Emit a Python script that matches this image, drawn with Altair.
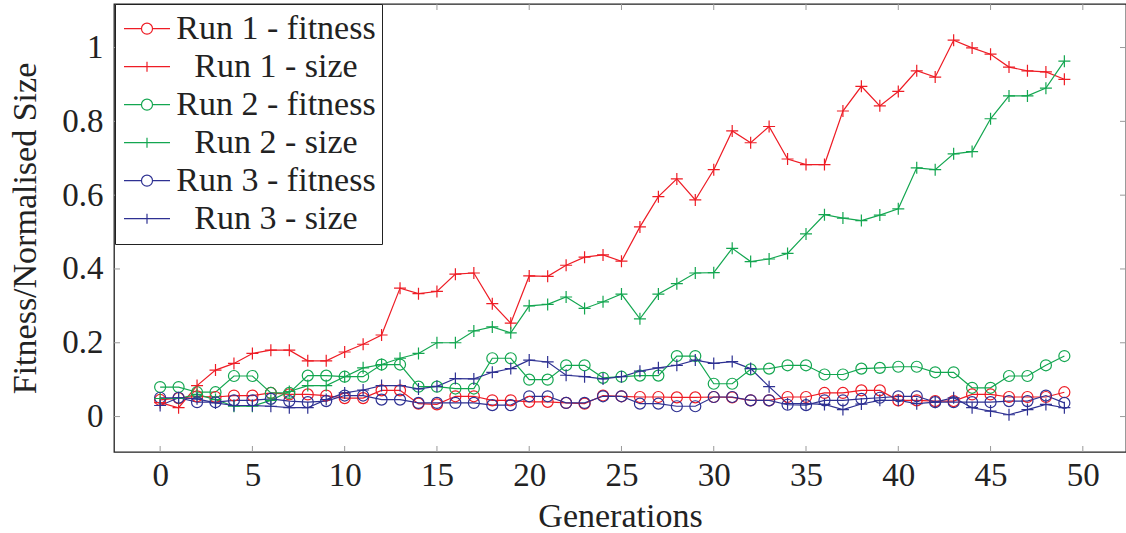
import altair as alt
import pandas as pd

generations = list(range(50))

run1_fitness = [0.045, 0.05, 0.055, 0.053, 0.057, 0.057, 0.064, 0.06, 0.06, 0.057,
                0.05, 0.05, 0.071, 0.071, 0.035, 0.033, 0.055, 0.055, 0.044, 0.044,
                0.04, 0.04, 0.037, 0.035, 0.057, 0.055, 0.053, 0.053, 0.052, 0.052,
                0.053, 0.052, 0.044, 0.044, 0.053, 0.053, 0.064, 0.064, 0.071, 0.071,
                0.044, 0.044, 0.042, 0.042, 0.06, 0.06, 0.053, 0.053, 0.053, 0.066]
run1_size = [0.038, 0.024, 0.084, 0.126, 0.144, 0.171, 0.18, 0.18, 0.151, 0.151,
             0.175, 0.196, 0.221, 0.348, 0.333, 0.339, 0.386, 0.389, 0.306, 0.253,
             0.381, 0.38, 0.41, 0.432, 0.438, 0.421, 0.514, 0.596, 0.644, 0.587,
             0.669, 0.774, 0.742, 0.786, 0.698, 0.683, 0.683, 0.828, 0.895, 0.842,
             0.881, 0.937, 0.92, 1.02, 0.999, 0.982, 0.947, 0.937, 0.934, 0.914]
run2_fitness = [0.08, 0.08, 0.066, 0.066, 0.11, 0.11, 0.064, 0.064, 0.111, 0.111,
                0.108, 0.108, 0.141, 0.141, 0.081, 0.081, 0.076, 0.076, 0.158, 0.158,
                0.1, 0.1, 0.139, 0.139, 0.105, 0.108, 0.111, 0.111, 0.164, 0.164,
                0.089, 0.089, 0.128, 0.13, 0.139, 0.139, 0.114, 0.114, 0.13, 0.132,
                0.135, 0.135, 0.12, 0.12, 0.078, 0.078, 0.11, 0.11, 0.139, 0.164]
run2_size = [0.049, 0.049, 0.06, 0.046, 0.028, 0.028, 0.044, 0.068, 0.084, 0.084,
             0.108, 0.132, 0.141, 0.158, 0.171, 0.2, 0.2, 0.232, 0.243, 0.227,
             0.3, 0.304, 0.324, 0.293, 0.311, 0.332, 0.265, 0.332, 0.36, 0.389,
             0.39, 0.456, 0.42, 0.427, 0.442, 0.495, 0.547, 0.538, 0.531, 0.546,
             0.563, 0.674, 0.669, 0.712, 0.718, 0.807, 0.869, 0.869, 0.89, 0.963]
run3_fitness = [0.051, 0.051, 0.039, 0.039, 0.044, 0.044, 0.048, 0.042, 0.039, 0.042,
                0.057, 0.057, 0.046, 0.046, 0.037, 0.037, 0.037, 0.037, 0.031, 0.031,
                0.055, 0.055, 0.037, 0.037, 0.055, 0.055, 0.035, 0.035, 0.028, 0.028,
                0.053, 0.053, 0.044, 0.044, 0.032, 0.031, 0.044, 0.044, 0.048, 0.051,
                0.055, 0.055, 0.039, 0.039, 0.039, 0.039, 0.042, 0.042, 0.057, 0.037]
run3_size = [0.03, 0.051, 0.048, 0.037, 0.03, 0.03, 0.028, 0.024, 0.024, 0.046,
             0.064, 0.072, 0.084, 0.084, 0.075, 0.082, 0.103, 0.102, 0.12, 0.13,
             0.153, 0.148, 0.112, 0.108, 0.102, 0.108, 0.123, 0.132, 0.139, 0.153,
             0.144, 0.149, 0.13, 0.081, 0.035, 0.035, 0.033, 0.019, 0.034, 0.044,
             0.044, 0.035, 0.039, 0.051, 0.024, 0.015, 0.005, 0.019, 0.033, 0.024]

series_names = ["Run 1 - fitness", "Run 1 - size", "Run 2 - fitness",
                "Run 2 - size", "Run 3 - fitness", "Run 3 - size"]
series_values = [run1_fitness, run1_size, run2_fitness, run2_size, run3_fitness, run3_size]
series_kind = ["fitness", "size", "fitness", "size", "fitness", "size"]
series_colors = ["#ee1c25", "#ee1c25", "#13a650", "#13a650", "#2e3192", "#2e3192"]

x_ticks = [0, 5, 10, 15, 20, 25, 30, 35, 40, 45, 50]
y_ticks = [0, 0.2, 0.4, 0.6, 0.8, 1.0]

rows = []
for name, vals, kind in zip(series_names, series_values, series_kind):
    for g, v in zip(generations, vals):
        rows.append({"gen": g, "value": v, "series": name, "kind": kind})
df = pd.DataFrame(rows)

W, H = 1012, 448
FONT = "Liberation Serif"
TXT = "#222222"

x_scale = alt.Scale(domain=[-2.5, 52.34], nice=False, zero=False)
y_scale = alt.Scale(domain=[-0.096, 1.118], nice=False, zero=False)

x_enc = alt.X("gen:Q", scale=x_scale,
              axis=alt.Axis(values=x_ticks, title="Generations", ticks=False, domain=False,
                            grid=False, labelPadding=7, titleY=74,
                            titleBaseline="alphabetic"))
y_enc = alt.Y("value:Q", scale=y_scale,
              axis=alt.Axis(values=y_ticks, title="Fitness/Normalised Size", format="~g",
                            ticks=False, domain=False, grid=False, labelPadding=11,
                            titleX=-79, titleBaseline="alphabetic"))

color_scale = alt.Scale(domain=series_names, range=series_colors)

circle_leg = "M-1,0H-0.24M0.24,0H1M0.24,0A0.24,0.24,0,1,1,-0.24,0A0.24,0.24,0,1,1,0.24,0"
cross_leg = "M-1,0H1M0,-0.22V0.22"
shape_range = [circle_leg, cross_leg, circle_leg, cross_leg, circle_leg, cross_leg]

legend_def = alt.Legend(title=None, orient="none", legendX=1, legendY=0,
                        padding=6, clipHeight=37.4, rowPadding=0,
                        labelAlign="center", labelOffset=105,
                        symbolSize=2116, symbolStrokeWidth=1.2,
                        symbolOffset=2, symbolOpacity=1, symbolFillColor="transparent",
                        labelFont=FONT, labelFontSize=34, labelColor=TXT,
                        labelLimit=400,
                        strokeColor="#222222", fillColor="white",
                        cornerRadius=0)

color_enc = alt.Color("series:N", scale=color_scale, legend=legend_def)

base = alt.Chart(df)

legend_layer = base.mark_point(filled=False).encode(
    x=x_enc, y=y_enc,
    color=color_enc,
    shape=alt.Shape("series:N", scale=alt.Scale(domain=series_names, range=shape_range),
                    legend=legend_def),
).transform_filter("false")

lines = base.mark_line(strokeWidth=1.2).encode(
    x=x_enc, y=y_enc, color=color_enc, detail="series:N",
)

circles = base.transform_filter(alt.datum.kind == "fitness").mark_point(
    filled=False, shape="circle", size=121, strokeWidth=1.2, opacity=1
).encode(x=x_enc, y=y_enc, color=color_enc)

crosses = base.transform_filter(alt.datum.kind == "size").mark_point(
    filled=False, shape="M-1,0H1M0,-1V1", size=144, strokeWidth=1.2, opacity=1
).encode(x=x_enc, y=y_enc, color=color_enc)

xt = alt.Chart(pd.DataFrame({"t": x_ticks}))
yt = alt.Chart(pd.DataFrame({"t": y_ticks}))
TICK = "#9a9a9a"
xtick_b = xt.mark_rule(color=TICK, strokeWidth=1).encode(
    x=alt.X("t:Q", scale=x_scale), y=alt.value(H), y2=alt.value(H - 6))
xtick_t = xt.mark_rule(color=TICK, strokeWidth=1).encode(
    x=alt.X("t:Q", scale=x_scale), y=alt.value(0), y2=alt.value(6))
ytick_l = yt.mark_rule(color=TICK, strokeWidth=1).encode(
    y=alt.Y("t:Q", scale=y_scale), x=alt.value(0), x2=alt.value(6))
ytick_r = yt.mark_rule(color=TICK, strokeWidth=1).encode(
    y=alt.Y("t:Q", scale=y_scale), x=alt.value(W), x2=alt.value(W - 6))

chart = alt.layer(
    xtick_b, xtick_t, ytick_l, ytick_r, legend_layer, lines, circles, crosses
).properties(
    width=W, height=H,
    background="white",
    autosize=alt.AutoSizeParams(type="none"),
    padding={"left": 114, "top": 4, "right": 0, "bottom": 81},
).configure_view(
    stroke="#222222", strokeWidth=1.3
).configure_axis(
    labelFont=FONT, labelFontSize=33, labelColor=TXT,
    titleFont=FONT, titleFontSize=34, titleColor=TXT, titleFontWeight="normal",
)

chart.save("out.html", embed_options={"renderer": "svg", "actions": False})
